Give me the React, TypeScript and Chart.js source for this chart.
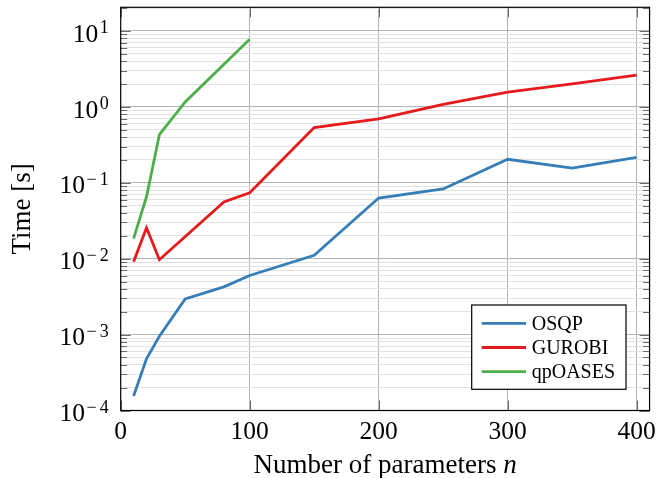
import React, { useEffect, useRef } from "react";
import { Chart, registerables } from "chart.js";

Chart.register(...registerables);

// ---- data ----
const osqpN = [10, 20, 30, 50, 80, 100, 150, 200, 250, 300, 350, 400];
const osqpT = [1.55e-4, 4.8e-4, 9.5e-4, 2.95e-3, 4.25e-3, 6.0e-3, 1.11e-2, 6.3e-2, 8.3e-2, 0.204, 0.156, 0.216];

const gurobiN = [10, 20, 30, 80, 100, 150, 200, 250, 300, 350, 400];
const gurobiT = [9.1e-3, 2.55e-2, 9.7e-3, 5.6e-2, 7.4e-2, 0.535, 0.695, 1.08, 1.56, 2.01, 2.62];

const qpoasesN = [10, 20, 30, 50, 100];
const qpoasesT = [0.0184, 0.0654, 0.43, 1.16, 7.8];

const seriesLabels = ["OSQP", "GUROBI", "qpOASES"];
const seriesColors = ["#377eb8", "#e41a1c", "#4daf4a"];

const xTickValues = [0, 100, 200, 300, 400];
const yDecades = [-4, -3, -2, -1, 0, 1];
const yMinorMultipliers = [1, 2, 3, 4, 5, 6, 7, 8, 9];

const X_MIN = 0;
const X_MAX = 410;
const Y_MIN = 1e-4;
const Y_MAX = 20.5;

const xTitle = "Number of parameters ";
const xTitleVar = "n";
const yTitle = "Time [s]";

const SERIF = '"Liberation Serif", "Times New Roman", serif';
const TICK_FS = 25.5;
const EXP_FS = 18;
const TITLE_FS = 27;
const LEGEND_FS = 20;

function isPow10(v: number) {
  const l = Math.log10(v);
  return Math.abs(l - Math.round(l)) < 1e-9;
}

function pts(xs: number[], ys: number[]) {
  return xs.map((x, i) => ({ x, y: ys[i] }));
}

const decorPlugin = {
  id: "decor",
  beforeDatasetsDraw(chart: any) {
    const { ctx, chartArea: a, scales } = chart;
    const ys = scales.y;
    const xs = scales.x;
    ctx.save();
    ctx.strokeStyle = "#6a6a6a";
    ctx.lineWidth = 1;
    ctx.beginPath();
    for (const t of ys.ticks) {
      const py = Math.round(ys.getPixelForValue(t.value)) + 0.5;
      const L = isPow10(t.value) ? 10 : 6.5;
      ctx.moveTo(a.left, py);
      ctx.lineTo(a.left + L, py);
      ctx.moveTo(a.right, py);
      ctx.lineTo(a.right - L, py);
    }
    for (const v of xTickValues) {
      const px = Math.round(xs.getPixelForValue(v)) + 0.5;
      ctx.moveTo(px, a.bottom);
      ctx.lineTo(px, a.bottom - 10);
      ctx.moveTo(px, a.top);
      ctx.lineTo(px, a.top + 10);
    }
    ctx.stroke();
    ctx.restore();
  },
  afterDraw(chart: any) {
    const { ctx, chartArea: a, scales } = chart;
    const ys = scales.y;
    const xs = scales.x;
    ctx.save();
    // frame
    ctx.strokeStyle = "#000";
    ctx.lineWidth = 1.2;
    ctx.strokeRect(a.left, a.top, a.right - a.left, a.bottom - a.top);

    // y tick labels 10^k
    ctx.fillStyle = "#000";
    ctx.textBaseline = "alphabetic";
    ctx.textAlign = "left";
    const rightEdge = a.left - 12;
    for (const k of yDecades) {
      const v = Math.pow(10, k);
      const py = ys.getPixelForValue(v);
      const base = py + 0.42 * TICK_FS;
      const expBase = base - 8.5;
      ctx.font = `${EXP_FS}px ${SERIF}`;
      const digit = String(Math.abs(k));
      const dw = ctx.measureText(digit).width;
      const mw = k < 0 ? ctx.measureText("\u2212").width + 3 : 0;
      const ew = dw + mw;
      const ex = rightEdge - ew;
      if (k < 0) ctx.fillText("\u2212", ex, expBase);
      ctx.fillText(digit, ex + mw, expBase);
      ctx.font = `${TICK_FS}px ${SERIF}`;
      const bw = ctx.measureText("10").width;
      ctx.fillText("10", ex - 1.5 - bw, base);
    }

    // x title with italic n
    ctx.textAlign = "left";
    ctx.textBaseline = "alphabetic";
    ctx.font = `${TITLE_FS}px ${SERIF}`;
    const w1 = ctx.measureText(xTitle).width;
    ctx.font = `italic ${TITLE_FS}px ${SERIF}`;
    const w2 = ctx.measureText(xTitleVar).width;
    const cx = (a.left + a.right) / 2;
    const startX = cx - (w1 + w2) / 2;
    const ty = 473;
    ctx.font = `${TITLE_FS}px ${SERIF}`;
    ctx.fillText(xTitle, startX, ty);
    ctx.font = `italic ${TITLE_FS}px ${SERIF}`;
    ctx.fillText(xTitleVar, startX + w1, ty);

    // legend
    const lx0 = xs.left + 351, ly0 = 305, lw = 154.3, lh = 84.3;
    ctx.fillStyle = "#fff";
    ctx.fillRect(lx0, ly0, lw, lh);
    ctx.strokeStyle = "#000";
    ctx.lineWidth = 1.2;
    ctx.strokeRect(lx0, ly0, lw, lh);
    ctx.font = `${LEGEND_FS}px ${SERIF}`;
    ctx.textBaseline = "middle";
    chart.data.datasets.forEach((ds: any, i: number) => {
      const ry = ly0 + 18.3 + i * 24.2;
      ctx.strokeStyle = ds.borderColor;
      ctx.lineWidth = 2.8;
      ctx.beginPath();
      ctx.moveTo(lx0 + 10, ry);
      ctx.lineTo(lx0 + 54.3, ry);
      ctx.stroke();
      ctx.fillStyle = "#000";
      ctx.fillText(ds.label, lx0 + 60, ry + 1);
    });
    ctx.restore();
  },
};

export default function App() {
  const ref = useRef<HTMLCanvasElement | null>(null);

  useEffect(() => {
    if (!ref.current) return;
    const yTickVals: number[] = [];
    for (const k of yDecades) {
      for (const m of yMinorMultipliers) {
        const v = m * Math.pow(10, k);
        if (v >= Y_MIN - 1e-12 && v <= Y_MAX) yTickVals.push(v);
      }
    }
    const chart = new Chart(ref.current, {
      type: "line",
      data: {
        datasets: [
          { label: seriesLabels[0], data: pts(osqpN, osqpT), borderColor: seriesColors[0], backgroundColor: seriesColors[0] },
          { label: seriesLabels[1], data: pts(gurobiN, gurobiT), borderColor: seriesColors[1], backgroundColor: seriesColors[1] },
          { label: seriesLabels[2], data: pts(qpoasesN, qpoasesT), borderColor: seriesColors[2], backgroundColor: seriesColors[2] },
        ],
      },
      options: {
        animation: false,
        responsive: false,
        devicePixelRatio: 1,
        layout: { padding: { left: 0, right: 8.7, top: 7.3, bottom: 0 } },
        elements: {
          line: { borderWidth: 2.8, tension: 0, borderJoinStyle: "miter" as any },
          point: { radius: 0, hoverRadius: 0 },
        },
        plugins: {
          legend: { display: false },
          tooltip: { enabled: false },
        },
        scales: {
          x: {
            type: "linear",
            min: X_MIN,
            max: X_MAX,
            afterBuildTicks: (scale: any) => {
              scale.ticks = xTickValues.map((v) => ({ value: v }));
            },
            afterFit: (scale: any) => {
              scale.height = 67.5;
            },
            ticks: {
              font: { family: SERIF, size: TICK_FS },
              color: "#000",
              padding: 6,
              maxRotation: 0,
              autoSkip: false,
            },
            grid: {
              color: (c: any) => (c.tick && c.tick.value === 0 ? "rgba(0,0,0,0)" : "#b4b4b4"),
              lineWidth: 1,
              drawTicks: false,
            },
            border: { display: false },
            title: { display: false },
          },
          y: {
            type: "logarithmic",
            min: Y_MIN,
            max: Y_MAX,
            afterBuildTicks: (scale: any) => {
              scale.ticks = yTickVals.map((v) => ({ value: v, major: isPow10(v) }));
            },
            afterFit: (scale: any) => {
              scale.width = 120.7;
            },
            ticks: { display: false },
            grid: {
              color: (c: any) => (c.tick && isPow10(c.tick.value) ? "#b4b4b4" : "#e2e2e2"),
              lineWidth: 1,
              drawTicks: false,
            },
            border: { display: false },
            title: {
              display: true,
              text: yTitle,
              font: { family: SERIF, size: TITLE_FS, lineHeight: 1 },
              color: "#000",
              padding: { top: 9, bottom: 0 },
            },
          },
        },
      },
      plugins: [decorPlugin],
    });
    return () => chart.destroy();
  }, []);

  return (
    <div style={{ position: "absolute", left: 0, top: 0, width: 662, height: 478, background: "#fff" }}>
      <canvas ref={ref} width={662} height={478} style={{ width: 662, height: 478, display: "block" }} />
    </div>
  );
}
